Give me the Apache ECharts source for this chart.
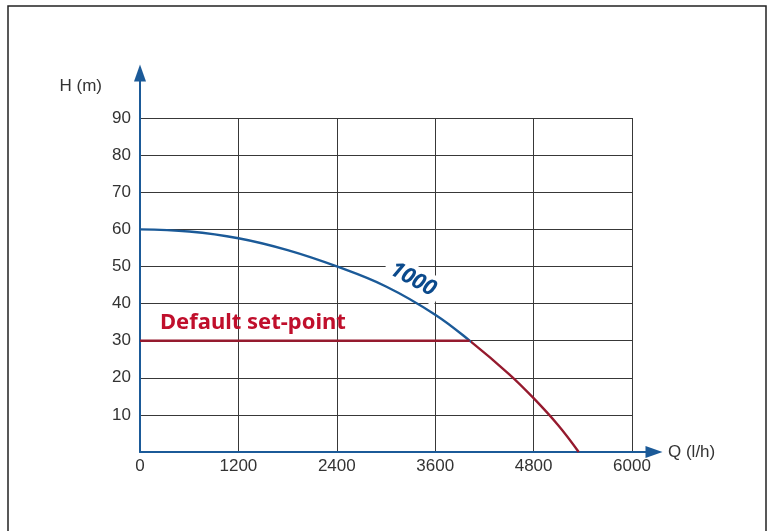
<!DOCTYPE html>
<html>
<head>
<meta charset="utf-8">
<script src="https://cdn.jsdelivr.net/npm/echarts@6/dist/echarts.min.js"></script>
<style>html,body{margin:0;padding:0;background:#fff;}#c{width:771px;height:531px;}</style>
</head>
<body>
<div id="c"></div>
<script>
// ---- data ----
const xTicks = [0, 1200, 2400, 3600, 4800, 6000];
const yTicks = [10, 20, 30, 40, 50, 60, 70, 80, 90];
// pump curve "1000" (Q l/h, H m)
const curveQ = [0, 600, 1200, 1800, 2400, 3000, 3600, 4020, 4500, 4800, 5100, 5350];
const curveH = [60, 59.4, 57.6, 54.4, 50, 44.6, 37, 30, 21, 14.5, 7.2, 0];
// Q where the curve meets the set-point (curve drawn red beyond it)
const setPointQ = 4020;
// default set-point line
const setQ = [0, 4020];
const setH = [30, 30];
// annotations (data coordinates)
const curveLabel = { text: '1000', q: 3330, h: 46.5 };
const setLabel = { text: 'Default set-point', q: 244, h: 34.8 };

const zip = (a, b) => a.map((v, i) => [v, b[i]]);

const blue = '#1b5a98';
const red = '#951a2e';
const gridColor = '#383838';
const txt = '#333333';
const font = 'Liberation Sans';

// split colour along the curve at the set-point (fraction of the curve's Q extent)
const qMin = Math.min(...curveQ), qMax = Math.max(...curveQ);
const f = (setPointQ - qMin) / (qMax - qMin);
const curveColor = {
  type: 'linear', x: 0, y: 0, x2: 1, y2: 0, global: false,
  colorStops: [
    { offset: 0, color: blue }, { offset: f, color: blue },
    { offset: f, color: red }, { offset: 1, color: red }
  ]
};

const chart = echarts.init(document.getElementById('c'), null, { renderer: 'canvas' });
chart.setOption({
  animation: false,
  backgroundColor: '#fff',
  graphic: [{
    type: 'rect', z: -10,
    shape: { x: 8, y: 6, width: 758, height: 560 },
    style: { fill: 'none', stroke: '#222', lineWidth: 1.5 }
  }],
  grid: [
    { left: 140, top: 118, right: 139, bottom: 79 },
    { left: 140, top: 73, right: 117, bottom: 79 }
  ],
  xAxis: [{
    gridIndex: 0, type: 'value', min: 0, max: 6000, interval: 1200,
    axisLine: { show: false }, axisTick: { show: false },
    splitLine: { show: true, lineStyle: { color: gridColor, width: 1 } },
    axisLabel: { color: txt, fontFamily: font, fontSize: 17, margin: 6,
      formatter: v => xTicks.includes(v) ? String(v) : '' },
    name: 'Q (l/h)', nameLocation: 'end', nameGap: 36,
    nameTextStyle: { color: txt, fontFamily: font, fontSize: 17, align: 'left', verticalAlign: 'middle' }
  }, {
    gridIndex: 1, type: 'value', min: 0, max: 1, z: 1,
    axisLine: { show: true, symbol: ['none', 'triangle'], symbolSize: [12, 17],
      lineStyle: { color: blue, width: 2 } },
    axisTick: { show: false }, axisLabel: { show: false }, splitLine: { show: false }
  }],
  yAxis: [{
    gridIndex: 0, type: 'value', min: 0, max: 90, interval: 10,
    axisLine: { show: false }, axisTick: { show: false },
    splitLine: { show: true, lineStyle: { color: gridColor, width: 1 } },
    axisLabel: { color: txt, fontFamily: font, fontSize: 17, margin: 9,
      formatter: v => yTicks.includes(v) ? String(v) : '' },
    name: 'H (m)', nameLocation: 'end', nameGap: 32,
    nameTextStyle: { color: txt, fontFamily: font, fontSize: 17, align: 'right',
      verticalAlign: 'middle', padding: [0, 38, 0, 0] }
  }, {
    gridIndex: 1, type: 'value', min: 0, max: 1, z: 1,
    axisLine: { show: true, symbol: ['none', 'triangle'], symbolSize: [12, 17],
      lineStyle: { color: blue, width: 2 } },
    axisTick: { show: false }, axisLabel: { show: false }, splitLine: { show: false }
  }],
  series: [
    {
      type: 'scatter', xAxisIndex: 0, yAxisIndex: 0, z: 1, symbolSize: 0, silent: true,
      itemStyle: { opacity: 1 },
      data: [[curveLabel.q, curveLabel.h]],
      label: { show: true, position: 'inside', formatter: curveLabel.text, rotate: -28,
        color: '#0b4a8c', fontFamily: 'Noto Sans', fontWeight: 'bold', fontStyle: 'italic',
        fontSize: 22, backgroundColor: '#fff', padding: [3, 6], opacity: 1 }
    },
    {
      type: 'line', xAxisIndex: 0, yAxisIndex: 0, z: 3, smooth: 0.4,
      showSymbol: false, data: zip(curveQ, curveH),
      lineStyle: { color: curveColor, width: 2.4 }
    },
    {
      type: 'line', xAxisIndex: 0, yAxisIndex: 0, z: 4, showSymbol: false,
      data: zip(setQ, setH), lineStyle: { color: red, width: 2.5 }
    },
    {
      type: 'scatter', xAxisIndex: 0, yAxisIndex: 0, z: 5, symbolSize: 0, silent: true,
      itemStyle: { opacity: 1 },
      data: [[setLabel.q, setLabel.h]],
      label: { show: true, position: 'right', distance: 0, formatter: setLabel.text,
        color: '#c00f2c', fontFamily: 'Noto Sans', fontWeight: 'bold', fontSize: 22, opacity: 1 }
    }
  ]
});
</script>
</body>
</html>
